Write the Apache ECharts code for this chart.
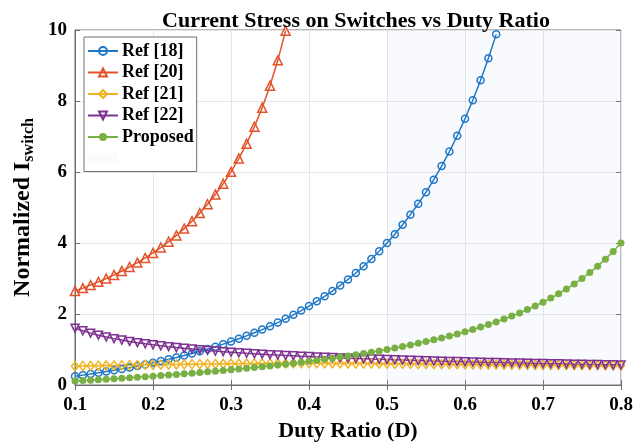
<!DOCTYPE html>
<html>
<head>
<meta charset="utf-8">
<script src="https://cdn.jsdelivr.net/npm/echarts@6/dist/echarts.min.js"></script>
<style>
  html, body { margin: 0; padding: 0; background: #fff; }
  #chart { width: 634px; height: 442px; }
</style>
</head>
<body>
<div id="chart"></div>
<script>
// Duty ratio samples (D)
const duty = [0.10,0.11,0.12,0.13,0.14,0.15,0.16,0.17,0.18,0.19,
  0.20,0.21,0.22,0.23,0.24,0.25,0.26,0.27,0.28,0.29,
  0.30,0.31,0.32,0.33,0.34,0.35,0.36,0.37,0.38,0.39,
  0.40,0.41,0.42,0.43,0.44,0.45,0.46,0.47,0.48,0.49,
  0.50,0.51,0.52,0.53,0.54,0.55,0.56,0.57,0.58,0.59,
  0.60,0.61,0.62,0.63,0.64,0.65,0.66,0.67,0.68,0.69,
  0.70,0.71,0.72,0.73,0.74,0.75,0.76,0.77,0.78,0.79,0.80];

// Normalized switch current, Ref [18] (D = 0.10 .. 0.64)
const ref18 = [0.247,0.278,0.310,0.344,0.379,0.415,0.454,0.494,0.535,0.579,
  0.625,0.673,0.723,0.776,0.831,0.889,0.950,1.013,1.080,1.151,
  1.224,1.302,1.384,1.470,1.561,1.657,1.758,1.864,1.977,2.096,
  2.222,2.356,2.497,2.647,2.806,2.975,3.155,3.346,3.550,3.768,
  4.000,4.248,4.514,4.799,5.104,5.432,5.785,6.166,6.576,7.020,
  7.500,8.021,8.587,9.204,9.877];

// Ref [20] (D = 0.10 .. 0.37)
const ref20 = [2.650,2.730,2.815,2.905,3.001,3.102,3.210,3.325,3.448,3.580,
  3.721,3.873,4.037,4.214,4.406,4.614,4.842,5.092,5.366,5.669,
  6.005,6.379,6.799,7.274,7.813,8.431,9.146,9.982];

// Ref [21] (D = 0.10 .. 0.80)
const ref21 = [0.530,0.535,0.540,0.544,0.548,0.552,0.556,0.560,0.564,0.567,
  0.570,0.573,0.576,0.579,0.582,0.585,0.588,0.591,0.594,0.597,
  0.600,0.602,0.604,0.605,0.606,0.607,0.608,0.609,0.610,0.610,
  0.610,0.610,0.609,0.609,0.608,0.607,0.606,0.605,0.603,0.602,
  0.600,0.598,0.596,0.594,0.592,0.590,0.588,0.586,0.584,0.582,
  0.580,0.578,0.576,0.575,0.573,0.571,0.570,0.568,0.566,0.565,
  0.563,0.562,0.560,0.559,0.557,0.556,0.555,0.554,0.552,0.551,0.550];

// Ref [22] (D = 0.10 .. 0.80)
const ref22 = [1.600,1.526,1.461,1.403,1.352,1.306,1.265,1.227,1.193,1.161,
  1.131,1.104,1.079,1.055,1.033,1.012,0.992,0.974,0.956,0.940,
  0.924,0.909,0.894,0.881,0.868,0.855,0.843,0.832,0.821,0.810,
  0.800,0.790,0.781,0.772,0.763,0.754,0.746,0.738,0.730,0.723,
  0.716,0.709,0.702,0.695,0.689,0.682,0.676,0.670,0.664,0.659,
  0.653,0.648,0.643,0.637,0.633,0.628,0.623,0.618,0.614,0.609,
  0.605,0.601,0.596,0.592,0.588,0.584,0.580,0.577,0.573,0.569,0.566];

// Proposed converter (D = 0.10 .. 0.80)
const proposed = [0.111,0.124,0.136,0.149,0.163,0.176,0.190,0.205,0.220,0.235,
  0.250,0.266,0.282,0.299,0.316,0.333,0.351,0.370,0.389,0.408,
  0.429,0.449,0.471,0.493,0.515,0.538,0.563,0.587,0.613,0.639,
  0.667,0.695,0.724,0.754,0.786,0.818,0.852,0.887,0.923,0.961,
  1.000,1.041,1.083,1.128,1.174,1.222,1.273,1.326,1.381,1.439,
  1.500,1.564,1.632,1.703,1.778,1.857,1.941,2.030,2.125,2.226,
  2.333,2.448,2.571,2.704,2.846,3.000,3.167,3.348,3.545,3.762,4.000];

// Highlighted duty-ratio range
const shadedRange = [0.5, 0.8];

const xTicks = { min: 0.1, max: 0.8, step: 0.1 };
const yTicks = { min: 0, max: 10, step: 2 };

const FONT = '"Liberation Serif", "Times New Roman", serif';

function pairs(values) {
  return values.map((v, i) => [duty[i], v]);
}

function lineSeries(name, values, color, symbol, size, opts) {
  return Object.assign({
    name: name,
    type: 'line',
    data: pairs(values),
    symbol: symbol,
    symbolSize: size,
    showAllSymbol: true,
    lineStyle: { color: color, width: 1.5 },
    itemStyle: { color: 'rgba(255,255,255,0)', borderColor: color, borderWidth: 1.5 },
    emphasis: { disabled: true },
    z: 3
  }, opts || {});
}

const chart = echarts.init(document.getElementById('chart'), null, { renderer: 'canvas' });

const option = {
  animation: false,
  backgroundColor: '#ffffff',
  title: {
    text: 'Current Stress on Switches vs Duty Ratio',
    left: 351,
    textAlign: 'center',
    top: 5,
    textStyle: { fontFamily: FONT, fontWeight: 'bold', fontSize: 22, color: '#000' }
  },
  grid: {
    left: 75, right: 13, top: 30, bottom: 57,
    outerBoundsMode: 'none',
    containLabel: false,
    show: true, borderColor: '#6e6e6e', borderWidth: 1
  },
  legend: {
    orient: 'vertical',
    left: 84,
    top: 37,
    padding: [5, 3, 4, 3],
    itemWidth: 30,
    itemHeight: 10,
    itemGap: 3.5,
    backgroundColor: '#fff',
    borderColor: '#6e6e6e',
    borderWidth: 1,
    borderRadius: 0,
    textStyle: { fontFamily: FONT, fontWeight: 'bold', fontSize: 18, lineHeight: 18, color: '#000', padding: [0, 0, 0, -1] },
    data: ['Ref [18]', 'Ref [20]', 'Ref [21]', 'Ref [22]', 'Proposed', { name: ' ', icon: 'rect' }]
  },
  xAxis: [{
    type: 'value',
    min: xTicks.min, max: xTicks.max, interval: xTicks.step,
    name: 'Duty Ratio (D)',
    nameLocation: 'middle',
    nameGap: 33,
    nameTextStyle: { fontFamily: FONT, fontWeight: 'bold', fontSize: 22, color: '#000' },
    axisLine: { show: true, lineStyle: { color: '#6e6e6e' } },
    axisTick: { inside: true, length: 5, lineStyle: { color: '#6e6e6e' } },
    axisLabel: { fontFamily: FONT, fontWeight: 'bold', fontSize: 19, color: '#000', margin: 11,
      formatter: v => v.toFixed(1) },
    splitLine: { show: true, lineStyle: { color: '#e6e6e6', width: 1 } }
  }, {
    type: 'value', position: 'top',
    min: xTicks.min, max: xTicks.max, interval: xTicks.step,
    axisLine: { show: false },
    axisTick: { inside: true, length: 5, lineStyle: { color: '#6e6e6e' } },
    axisLabel: { show: false },
    splitLine: { show: false }
  }],
  yAxis: [{
    type: 'value',
    min: yTicks.min, max: yTicks.max, interval: yTicks.step,
    name: '{a|Normalized I}{b|switch}',
    nameLocation: 'middle',
    nameGap: 35,
    nameTextStyle: {
      rich: {
        a: { fontFamily: FONT, fontWeight: 'bold', fontSize: 24, color: '#000' },
        b: { fontFamily: FONT, fontWeight: 'bold', fontSize: 16, color: '#000', padding: [12, 0, 0, 0] }
      }
    },
    axisLine: { show: true, lineStyle: { color: '#6e6e6e' } },
    axisTick: { inside: true, length: 5, lineStyle: { color: '#6e6e6e' } },
    axisLabel: { fontFamily: FONT, fontWeight: 'bold', fontSize: 19, color: '#000', margin: 8 },
    splitLine: { show: true, lineStyle: { color: '#e6e6e6', width: 1 } }
  }, {
    type: 'value', position: 'right',
    min: yTicks.min, max: yTicks.max, interval: yTicks.step,
    axisLine: { show: false },
    axisTick: { inside: true, length: 5, lineStyle: { color: '#6e6e6e' } },
    axisLabel: { show: false },
    splitLine: { show: false }
  }],
  series: [
    {
      name: ' ',
      type: 'line',
      data: [],
      itemStyle: { color: 'rgba(210,222,240,0.12)' },
      markArea: {
        silent: true,
        itemStyle: { color: 'rgba(210,222,240,0.14)' },
        data: [[{ xAxis: shadedRange[0] }, { xAxis: shadedRange[1] }]]
      },
      z: 1
    },
    lineSeries('Ref [18]', ref18, '#1f77c8', 'circle', 7),
    lineSeries('Ref [20]', ref20, '#e2532a', 'triangle', 9),
    lineSeries('Ref [21]', ref21, '#f0b323', 'diamond', [7, 9]),
    lineSeries('Ref [22]', ref22, '#7e3192', 'triangle', 8, { symbolRotate: 180 }),
    lineSeries('Proposed', proposed, '#79b043', 'circle', 7, {
      itemStyle: { color: '#79b043', borderColor: '#79b043', borderWidth: 0 }
    })
  ]
};

chart.setOption(option);
</script>
</body>
</html>
